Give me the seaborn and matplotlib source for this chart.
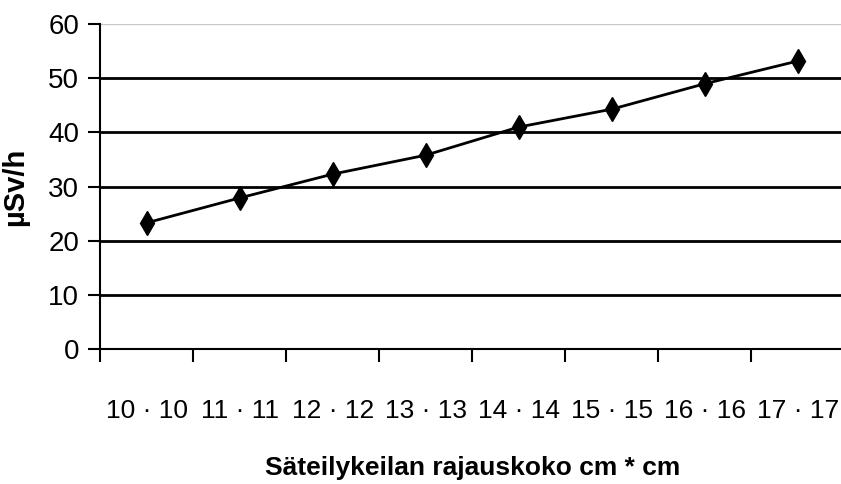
import matplotlib
matplotlib.use("Agg")
import matplotlib.pyplot as plt
import seaborn as sns
import pandas as pd
from matplotlib.ticker import FixedLocator

# Data
kentat = ["10 · 10", "11 · 11", "12 · 12", "13 · 13", "14 · 14", "15 · 15", "16 · 16", "17 · 17"]
annos = [23.3, 27.9, 32.3, 35.8, 41.0, 44.3, 49.0, 53.2]
y_ticks = [0, 10, 20, 30, 40, 50, 60]

df = pd.DataFrame({"kenttä": kentat, "annos": annos})

sns.set_style("white")
plt.rcParams['font.family'] = ['Liberation Sans', 'DejaVu Sans']
plt.rcParams['text.color'] = 'black'
plt.rcParams['axes.labelcolor'] = 'black'
plt.rcParams['xtick.color'] = 'black'
plt.rcParams['ytick.color'] = 'black'

fig = plt.figure(figsize=(8.41, 4.84), dpi=100)
ax = fig.add_axes([0.119, 0.279, 0.885, 0.671])

sns.lineplot(data=df, x="kenttä", y="annos", marker="d", markersize=12,
             markeredgewidth=1, color="black", linewidth=2,
             markeredgecolor="black", ax=ax, sort=False)

ax.set_xlim(-0.5, len(kentat) - 0.5)
ax.set_ylim(0, 60)
ax.set_yticks(y_ticks)
ax.set_yticklabels([str(v) for v in y_ticks], fontsize=20)

# x tick labels centered, tick marks between categories
ax.set_xticks(range(len(kentat)))
ax.set_xticklabels(kentat, fontsize=19)
ax.tick_params(axis="x", which="major", length=0, pad=36)
ax.xaxis.set_minor_locator(FixedLocator([i + 0.5 for i in range(-1, len(kentat))]))
ax.tick_params(axis="x", which="minor", bottom=True, length=9, width=1.5,
               color="black", direction="out")
ax.tick_params(axis="y", left=True, length=9, width=1.5, color="black",
               direction="out", pad=6)

for v in y_ticks[1:]:
    ax.axhline(v, color="black" if v < 60 else "#c8c8c8",
               linewidth=2 if v < 60 else 1, zorder=0)

for s in ["top", "right"]:
    ax.spines[s].set_visible(False)
for s in ["left", "bottom"]:
    ax.spines[s].set_color("black")
    ax.spines[s].set_linewidth(1.5)

ax.set_ylabel("µSv/h", fontsize=21, fontweight="bold", labelpad=14)
ax.set_xlabel("Säteilykeilan rajauskoko cm * cm", fontsize=19, fontweight="bold",
              labelpad=24)

fig.savefig("out.png", dpi=100)
